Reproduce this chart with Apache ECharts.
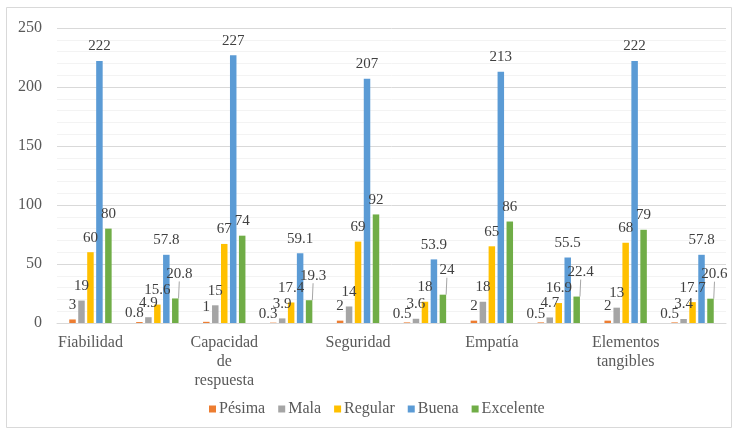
<!DOCTYPE html>
<html>
<head>
<meta charset="utf-8">
<script src="https://cdn.jsdelivr.net/npm/echarts@6/dist/echarts.min.js"></script>
<style>
  html, body { margin: 0; padding: 0; background: #ffffff; }
  #chart { width: 735px; height: 431px; }
</style>
</head>
<body>
<div id="chart"></div>
<script>
// Category labels: counts groups are labelled, percentage groups are left blank
const categories = [
  'Fiabilidad', '',
  'Capacidad\nde\nrespuesta', '',
  'Seguridad', '',
  'Empatía', '',
  'Elementos\ntangibles', ''
];

const seriesNames = ['Pésima', 'Mala', 'Regular', 'Buena', 'Excelente'];

// Values per rating level: counts followed by the percentage for each dimension
const pesima    = [3, 0.8, 1, 0.3, 2, 0.5, 2, 0.5, 2, 0.5];
const mala      = [19, 4.9, 15, 3.9, 14, 3.6, 18, 4.7, 13, 3.4];
const regular   = [60, 15.6, 67, 17.4, 69, 18, 65, 16.9, 68, 17.7];
const buena     = [222, 57.8, 227, 59.1, 207, 53.9, 213, 55.5, 222, 57.8];
const excelente = [80, 20.8, 74, 19.3, 92, 24, 86, 22.4, 79, 20.6];

const yTicks = { min: 0, max: 250, interval: 50 };

const colors = ['#ED7D31', '#A5A5A5', '#FFC000', '#5B9BD5', '#70AD47'];
const serif = '"Liberation Serif", "DejaVu Serif", serif';

const chart = echarts.init(document.getElementById('chart'));

// percentage groups sit at odd positions
const isPct = i => i % 2 === 1;

function makeSeries(name, values, idx) {
  const s = {
    name: name,
    type: 'bar',
    data: values,
    barWidth: 6.5,
    barGap: '38%',
    itemStyle: { color: colors[idx] },
    label: {
      show: true,
      position: 'top',
      distance: 7,
      fontFamily: serif,
      fontSize: 15,
      color: '#404040'
    }
  };
  if (idx === 0) {
    // tiny percentage bars: label tucked down beside the bar
    s.labelLayout = p => (isPct(p.dataIndex) ? { dx: -5, dy: 6 } : {});
  }
  if (idx === 4) {
    // percentage labels lifted with a short leader line
    s.data = values.map((v, i) => ({ value: v, labelLine: { show: isPct(i) } }));
    s.labelLayout = p => (isPct(p.dataIndex) ? { dx: 4, dy: -10 } : {});
    s.labelLine = { show: false, lineStyle: { color: '#a6a6a6', width: 1 } };
  }
  return s;
}

const option = {
  animation: false,
  backgroundColor: '#ffffff',
  color: colors,
  graphic: [{
    type: 'rect',
    shape: { x: 6.5, y: 7.5, width: 725, height: 420 },
    style: { fill: 'none', stroke: '#d9d9d9', lineWidth: 1 },
    silent: true,
    z: -1
  }],
  grid: { left: 57, right: 9, top: 28, bottom: 108 },
  legend: {
    data: seriesNames,
    bottom: 9,
    left: 204,
    itemWidth: 7,
    itemHeight: 7,
    itemGap: 13,
    icon: 'rect',
    textStyle: { fontFamily: serif, fontSize: 16, color: '#595959', padding: [0, 0, 0, -2] }
  },
  xAxis: {
    type: 'category',
    data: categories,
    axisTick: { show: false },
    axisLine: { lineStyle: { color: '#d9d9d9' } },
    axisLabel: {
      interval: 0,
      fontFamily: serif,
      fontSize: 16,
      lineHeight: 19,
      color: '#595959',
      margin: 10
    }
  },
  yAxis: {
    type: 'value',
    min: yTicks.min,
    max: yTicks.max,
    interval: yTicks.interval,
    axisLine: { show: false },
    axisTick: { show: false },
    axisLabel: { fontFamily: serif, fontSize: 16, color: '#595959', margin: 15 },
    splitLine: { lineStyle: { color: '#d9d9d9' } },
    minorTick: { show: false, splitNumber: 5 },
    minorSplitLine: { show: true, lineStyle: { color: '#f3f3f3' } }
  },
  series: [
    makeSeries(seriesNames[0], pesima, 0),
    makeSeries(seriesNames[1], mala, 1),
    makeSeries(seriesNames[2], regular, 2),
    makeSeries(seriesNames[3], buena, 3),
    makeSeries(seriesNames[4], excelente, 4)
  ]
};

chart.setOption(option);
</script>
</body>
</html>
